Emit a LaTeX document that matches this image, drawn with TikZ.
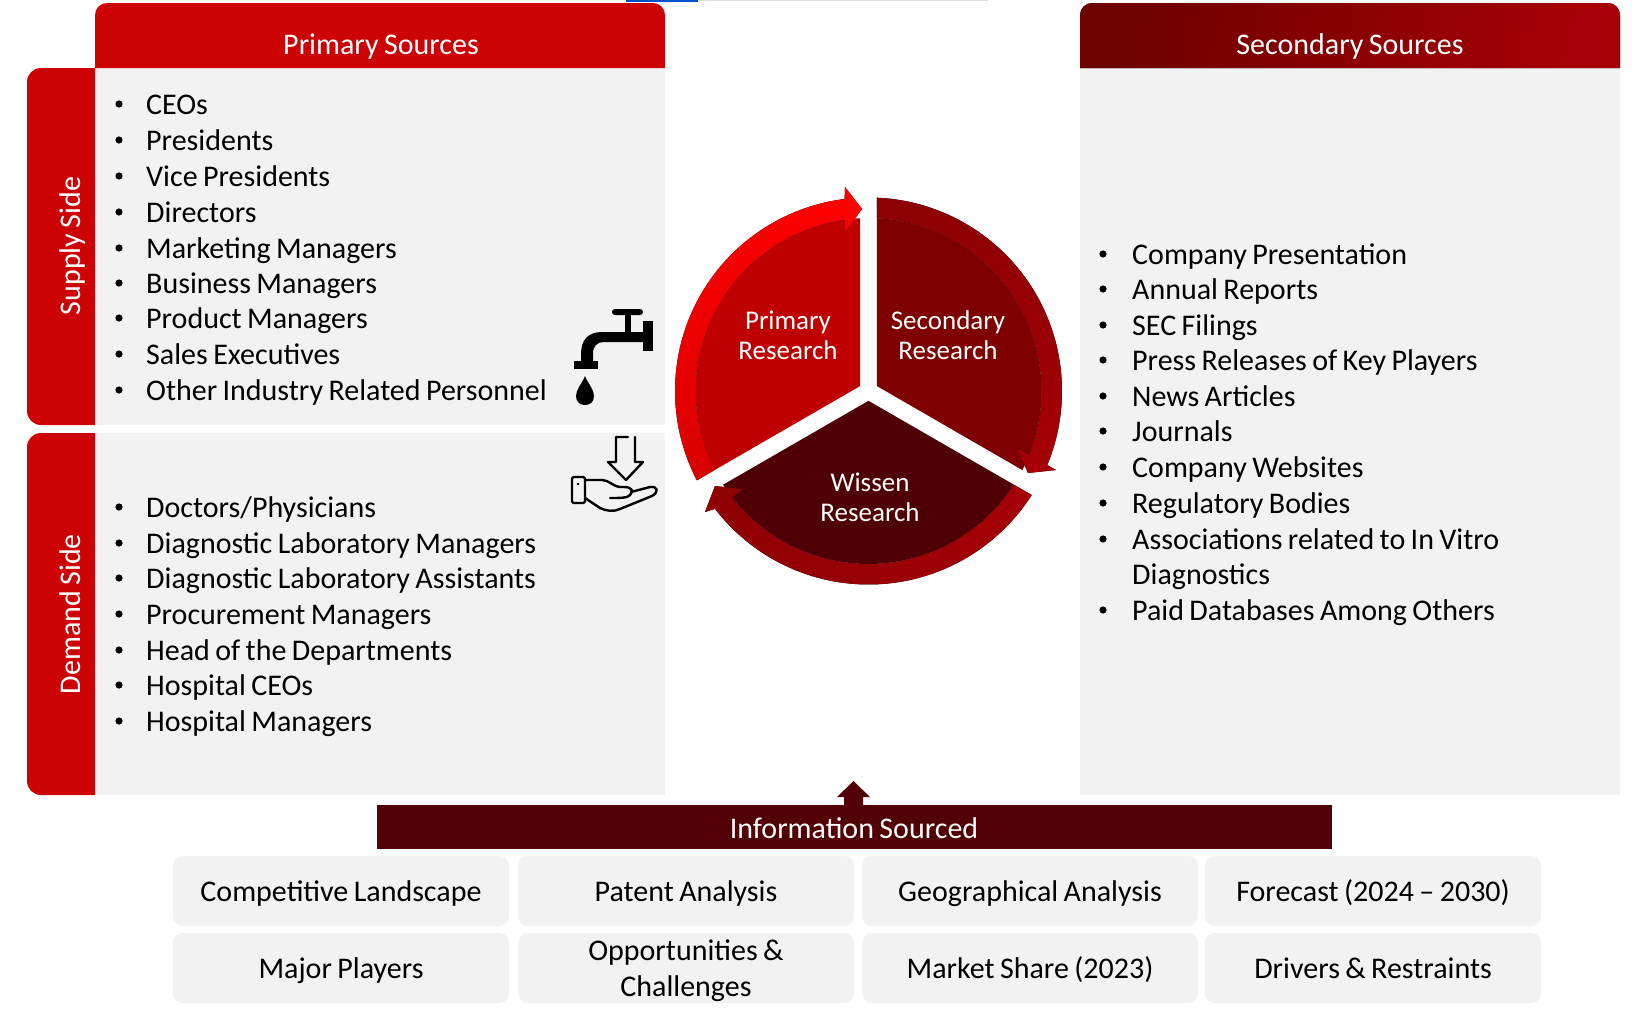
\documentclass[tikz,border=0pt]{standalone}
\usepackage{fontspec}
\setmainfont[WordSpace=0.8]{Carlito}
\usepackage{tikz}
\definecolor{hdrred}{HTML}{CC0205}
\definecolor{hdrdark}{HTML}{6E0000}
\definecolor{hdrmid}{HTML}{A50005}
\definecolor{barmaroon}{HTML}{520005}
\definecolor{panelgray}{HTML}{F2F2F2}
\definecolor{wedgeone}{HTML}{BF0000}
\definecolor{wedgetwo}{HTML}{7F0000}
\definecolor{wedgethree}{HTML}{4F0005}
\tikzset{
    listitem/.style={anchor=west,font=\fontsize{30}{32}\selectfont,text=black,inner sep=0pt,text height=27pt,text depth=6pt},
    headlabel/.style={font=\fontsize{30}{32}\selectfont,text=white,inner sep=0pt,text height=29pt,text depth=6pt},
    sidelabel/.style={font=\fontsize{30}{32}\selectfont,text=white,inner sep=0pt,rotate=90,text height=27pt,text depth=6pt},
    wheellabel/.style={font=\fontsize{27}{30}\selectfont,text=white,align=center,inner sep=0pt},
    infobox/.style={fill=panelgray,rounded corners=10pt,minimum width=336pt,minimum height=70pt,font=\fontsize{30}{36}\selectfont,inner sep=0pt,draw=black!3,text height=27pt,text depth=6pt},
    boxlabel/.style={align=center,font=\fontsize{30}{36}\selectfont,inner sep=0pt},
    iconline/.style={draw=black,line width=2.4pt,line join=round,line cap=round,fill=none}
}
\begin{document}
\begin{tikzpicture}[x=1pt,y=1pt]
    \useasboundingbox (0,0) rectangle (1632,-1012);
    % stray strip along the top edge
    \fill[blue!60!cyan!80!black] (626,0) rectangle (698,-2);
    \fill[black!12] (698,0) rectangle (988,-1);
    % panels
    \fill[panelgray] (95,-68) rectangle (665,-425);
    \fill[panelgray] (95,-433) rectangle (665,-795);
    \fill[panelgray] (1080,-68) rectangle (1620,-795);
    % headers and side tabs
    \fill[hdrred] (95,-68) [rounded corners=12pt] -- (95,-3) -- (665,-3) [sharp corners] -- (665,-68) -- cycle;
    \fill[left color=hdrdark,right color=hdrmid,shading angle=75] (1080,-68) [rounded corners=12pt] -- (1080,-3) -- (1620,-3) [sharp corners] -- (1620,-68) -- cycle;
    \fill[hdrred] (95,-68) [rounded corners=14pt] -- (27,-68) -- (27,-425) [sharp corners] -- (95,-425) -- cycle;
    \fill[hdrred] (95,-433) [rounded corners=14pt] -- (27,-433) -- (27,-795) [sharp corners] -- (95,-795) -- cycle;
    \node[headlabel] (primaryhead) at (381,-43) {Primary Sources};
    \node[headlabel] (secondaryhead) at (1350,-43) {Secondary Sources};
    \node[sidelabel] (supplyside) at (70,-246) {Supply Side};
    \node[sidelabel] (demandside) at (70,-614) {Demand Side};
    % supply side
    \fill (119,-104) circle (3.6pt);
    \fill (119,-140) circle (3.6pt);
    \fill (119,-176) circle (3.6pt);
    \fill (119,-212) circle (3.6pt);
    \fill (119,-248) circle (3.6pt);
    \fill (119,-283) circle (3.6pt);
    \fill (119,-318) circle (3.6pt);
    \fill (119,-354) circle (3.6pt);
    \fill (119,-390) circle (3.6pt);
    \node[listitem] (ceos) at (146,-104) {CEOs};
    \node[listitem] (presidents) at (146,-140) {Presidents};
    \node[listitem] (vicepres) at (146,-176) {Vice Presidents};
    \node[listitem] (directors) at (146,-212) {Directors};
    \node[listitem] (marketing) at (146,-248) {Marketing Managers};
    \node[listitem] (business) at (146,-283) {Business Managers};
    \node[listitem] (product) at (146,-318) {Product Managers};
    \node[listitem] (sales) at (146,-354) {Sales Executives};
    \node[listitem] (otherstaff) at (146,-390) {Other Industry Related Personnel};
    % demand side
    \fill (119,-507) circle (3.6pt);
    \fill (119,-543) circle (3.6pt);
    \fill (119,-578) circle (3.6pt);
    \fill (119,-614) circle (3.6pt);
    \fill (119,-650) circle (3.6pt);
    \fill (119,-685) circle (3.6pt);
    \fill (119,-721) circle (3.6pt);
    \node[listitem] (doctors) at (146,-507) {Doctors/Physicians};
    \node[listitem] (labmanagers) at (146,-543) {Diagnostic Laboratory Managers};
    \node[listitem] (labassist) at (146,-578) {Diagnostic Laboratory Assistants};
    \node[listitem] (procurement) at (146,-614) {Procurement Managers};
    \node[listitem] (heads) at (146,-650) {Head of the Departments};
    \node[listitem] (hospceos) at (146,-685) {Hospital CEOs};
    \node[listitem] (hospmanagers) at (146,-721) {Hospital Managers};
    % secondary sources
    \fill (1103,-254) circle (3.6pt);
    \fill (1103,-289) circle (3.6pt);
    \fill (1103,-325) circle (3.6pt);
    \fill (1103,-360) circle (3.6pt);
    \fill (1103,-396) circle (3.6pt);
    \fill (1103,-431) circle (3.6pt);
    \fill (1103,-467) circle (3.6pt);
    \fill (1103,-503) circle (3.6pt);
    \fill (1103,-539) circle (3.6pt);
    \fill (1103,-610) circle (3.6pt);
    \node[listitem] (presentation) at (1132,-254) {Company Presentation};
    \node[listitem] (annual) at (1132,-289) {Annual Reports};
    \node[listitem] (secfilings) at (1132,-325) {SEC Filings};
    \node[listitem] (press) at (1132,-360) {Press Releases of Key Players};
    \node[listitem] (news) at (1132,-396) {News Articles};
    \node[listitem] (journals) at (1132,-431) {Journals};
    \node[listitem] (websites) at (1132,-467) {Company Websites};
    \node[listitem] (regulatory) at (1132,-503) {Regulatory Bodies};
    \node[listitem] (assoc) at (1132,-539) {Associations related to In Vitro};
    \node[listitem] (assoctwo) at (1132,-574) {Diagnostics};
    \node[listitem] (paid) at (1132,-610) {Paid Databases Among Others};
    % tap
    \fill[rounded corners=3pt] (612,-309) rectangle (643,-315);
    \fill (625,-313) rectangle (631,-334);
    \fill (643,-321) rectangle (653,-351);
    \fill (645,-332) -- (602,-332) .. controls (588,-332) and (581,-340) .. (581,-354) -- (581,-362) -- (593,-362) -- (593,-354) .. controls (593,-346) and (597,-342) .. (604,-342) -- (645,-342) -- cycle;
    \fill (574,-361) rectangle (598,-369);
    \fill (585,-376) .. controls (582,-384) and (576,-389) .. (576,-396) .. controls (576,-402) and (580,-405) .. (585,-405) .. controls (590,-405) and (594,-402) .. (594,-396) .. controls (594,-389) and (588,-384) .. (585,-376) -- cycle;
    % hand under arrow
    \draw[iconline] (628,-437) -- (616,-437) -- (616,-462) -- (608,-462) -- (626,-480) -- (643,-462) -- (635,-462) -- (635,-437);
    \draw[iconline,rounded corners=1.5pt] (572,-477) rectangle (585,-503);
    \fill (578,-484) circle (1.3pt);
    \draw[iconline] (585,-480) -- (602,-480) .. controls (609,-480) and (612,-486) .. (620,-487) -- (624,-487) .. controls (632,-487) and (634,-491) .. (630,-495) .. controls (628,-498) and (620,-498) .. (610,-498);
    \draw[iconline] (631,-492) -- (650,-487) .. controls (658,-486) and (659,-492) .. (652,-496) -- (620,-509) .. controls (614,-512) and (606,-511) .. (600,-508) -- (585,-498);
    % wheel
    \coordinate (wheelc) at (868.5,-391);
    \fill[wedgeone] ([shift={(wheelc)}]150:9.8) -- ([shift={(wheelc)}]207.2:173) arc[start angle=207.2,end angle=92.8,radius=173] -- cycle;
    \fill[wedgetwo] ([shift={(wheelc)}]30:9.8) -- ([shift={(wheelc)}]87.2:173) arc[start angle=87.2,end angle=-27.2,radius=173] -- cycle;
    \fill[wedgethree] ([shift={(wheelc)}]270:9.8) -- ([shift={(wheelc)}]327.2:173) arc[start angle=327.2,end angle=212.8,radius=173] -- cycle;
    \fill[top color=red,bottom color=red!85!black] ([shift={(wheelc)}]207.5:193.5) arc[start angle=207.5,end angle=97.1,radius=193.5] -- (845,-187) -- (862,-209) -- (845,-232) -- ([shift={(wheelc)}]98:173) arc[start angle=98,end angle=207.2,radius=173] -- cycle;
    \fill[top color=hdrmid!85!black,bottom color=hdrmid] ([shift={(wheelc)}]87.5:193.5) arc[start angle=87.5,end angle=-22.5,radius=193.5] -- (1056,-470) -- (1028,-473) -- (1017,-448) -- ([shift={(wheelc)}]-21.7:173) arc[start angle=-21.7,end angle=87.2,radius=173] -- cycle;
    \fill[left color=hdrmid!85!black,right color=hdrmid] ([shift={(wheelc)}]-32.5:193.5) arc[start angle=-32.5,end angle=-142.5,radius=193.5] -- (705,-512) -- (715,-486) -- (743,-489) -- ([shift={(wheelc)}]-142:173) arc[start angle=-142,end angle=-32.8,radius=173] -- cycle;
    \node[wheellabel] (primaryres) at (788,-335) {Primary\\[0pt]Research};
    \node[wheellabel] (secondaryres) at (948,-335) {Secondary\\[0pt]Research};
    \node[wheellabel] (wissenres) at (870,-497) {Wissen\\[0pt]Research};
    % information bar
    \fill[barmaroon] (844,-806) -- (844,-797) -- (837,-797) -- (853.5,-781) -- (870,-797) -- (863,-797) -- (863,-806) -- cycle;
    \fill[barmaroon] (377,-805) rectangle (1332,-849);
    \node[headlabel] (infosourced) at (854,-827) {Information Sourced};
    % boxes
    \node[infobox] (landscape) at (341,-891) {Competitive Landscape};
    \node[infobox] (patent) at (686,-891) {Patent Analysis};
    \node[infobox] (geography) at (1030,-891) {Geographical Analysis};
    \node[infobox] (forecast) at (1373,-891) {Forecast (2024 -- 2030)};
    \node[infobox] (players) at (341,-968) {Major Players};
    \node[infobox] (opportunities) at (686,-968) {};
    \node[boxlabel] (opportext) at (686,-971) {Opportunities \&\\Challenges};
    \node[infobox] (marketshare) at (1030,-968) {Market Share (2023)};
    \node[infobox] (drivers) at (1373,-968) {Drivers \& Restraints};
\end{tikzpicture}
\end{document}
